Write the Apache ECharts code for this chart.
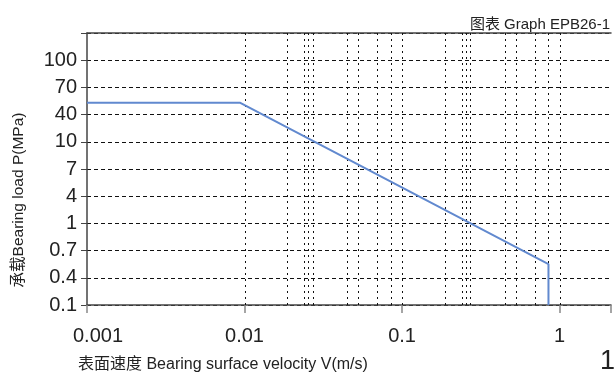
<!DOCTYPE html>
<html>
<head>
<meta charset="utf-8">
<script src="https://cdn.jsdelivr.net/npm/echarts@6/dist/echarts.min.js"></script>
<style>
  html, body { margin: 0; padding: 0; background: #fff; }
  #main { width: 614px; height: 374px; }
</style>
</head>
<body>
<div id="main"></div>
<script>
// y axis labels (evenly spaced in the original, not a true scale)
var yLabels = [0.1, 0.4, 0.7, 1, 4, 7, 10, 40, 70, 100];
// curve: velocity (m/s) and load (MPa)
var velocity = [0.001, 0.0094, 0.85, 0.85];
var load = [53, 53, 0.55, 0.1];
// extra vertical dotted grid lines
var vGrid = [0.01, 0.0187, 0.0239, 0.0253, 0.0271, 0.0448, 0.0525, 0.0693, 0.0848,
             0.1, 0.187, 0.239, 0.253, 0.271, 0.448, 0.525, 0.693, 0.848, 1];

// place a MPa value on the label axis (linear between neighbouring labels)
function toAxis(v) {
    for (var i = 0; i < yLabels.length - 1; i++) {
        if (v <= yLabels[i + 1]) {
            return i + (v - yLabels[i]) / (yLabels[i + 1] - yLabels[i]);
        }
    }
    return yLabels.length - 1;
}

var pts = [];
for (var i = 0; i < velocity.length; i++) {
    pts.push([velocity[i], toAxis(load[i])]);
}

var myChart = echarts.init(document.getElementById('main'));
var option = {
    animation: false,
    title: {
        text: '图表 Graph EPB26-1',
        right: -1,
        top: 12,
        textStyle: { fontSize: 15, fontWeight: 'normal', color: '#222', fontFamily: 'Liberation Sans, Noto Sans CJK SC' }
    },
    grid: { left: 87, right: 0, top: 33, bottom: 69 },
    xAxis: [
        {
            type: 'log',
            logBase: 10,
            min: 0.001,
            max: 2.12,
            axisLine: { show: true, lineStyle: { color: '#444', width: 1.5 } },
            axisTick: { show: true, length: 8, lineStyle: { color: '#888', width: 1.5 } },
            splitLine: { show: false },
            minorTick: { show: false },
            axisLabel: {
                margin: 21,
                fontSize: 20,
                color: '#222',
                fontFamily: 'Liberation Sans',
                formatter: function (v) {
                    var l = Math.log10(v);
                    if (Math.abs(l - Math.round(l)) > 1e-6) return '';
                    var s = String(+v.toPrecision(3));
                    // the first label sits a little right of its tick
                    return v < 0.002 ? '{first|' + s + '}' : s;
                },
                rich: {
                    first: { fontSize: 20, fontFamily: 'Liberation Sans', color: '#222', padding: [0, 0, 0, 22] }
                }
            }
        },
        {
            type: 'log',
            logBase: 10,
            min: 0.001,
            max: 2.12,
            position: 'top',
            axisLine: { show: true, lineStyle: { color: '#444', width: 1.5 } },
            axisTick: { show: false },
            axisLabel: { show: false },
            splitLine: { show: false }
        }
    ],
    yAxis: {
        type: 'value',
        min: 0,
        max: 10,
        interval: 1,
        axisLine: { show: true, lineStyle: { color: '#444', width: 1.5 } },
        axisTick: { show: true, length: 6, lineStyle: { color: '#444' } },
        splitLine: { show: true, lineStyle: { color: '#111', type: [4, 3], width: 1 } },
        axisLabel: {
            margin: 10,
            fontSize: 20,
            color: '#222',
            fontFamily: 'Liberation Sans',
            formatter: function (v) {
                return v < yLabels.length ? String(yLabels[v]) : '';
            }
        }
    },
    graphic: [
        {
            type: 'text',
            x: 19,
            y: 200,
            rotation: Math.PI / 2,
            style: {
                text: '承载Bearing load P(MPa)',
                fontSize: 15.5,
                fontFamily: 'Liberation Sans, Noto Sans CJK SC',
                fill: '#222',
                align: 'center',
                verticalAlign: 'middle'
            }
        },
        {
            type: 'text',
            x: 78,
            y: 365,
            style: {
                text: '表面速度 Bearing surface velocity V(m/s)',
                fontSize: 16,
                fontFamily: 'Liberation Sans, Noto Sans CJK SC',
                fill: '#222',
                align: 'left',
                verticalAlign: 'middle'
            }
        },
        {
            type: 'text',
            x: 615,
            y: 362,
            style: {
                text: '1',
                fontSize: 27,
                fontFamily: 'Liberation Sans',
                fill: '#222',
                align: 'right',
                verticalAlign: 'middle'
            }
        }
    ],
    series: [
        {
            // vertical dotted grid lines
            type: 'custom',
            silent: true,
            data: vGrid.map(function (x) { return [x]; }),
            renderItem: function (params, api) {
                var p0 = api.coord([api.value(0), 0]);
                var p1 = api.coord([api.value(0), 10]);
                return {
                    type: 'line',
                    shape: { x1: Math.round(p0[0]) + 0.5, y1: p0[1], x2: Math.round(p1[0]) + 0.5, y2: p1[1] },
                    style: { stroke: '#111', lineWidth: 1, lineDash: [2, 4] }
                };
            },
            z: 1
        },
        {
            type: 'line',
            data: pts,
            symbol: 'none',
            lineStyle: { color: '#6189cf', width: 2 },
            z: 5
        }
    ]
};
myChart.setOption(option);
</script>
</body>
</html>
